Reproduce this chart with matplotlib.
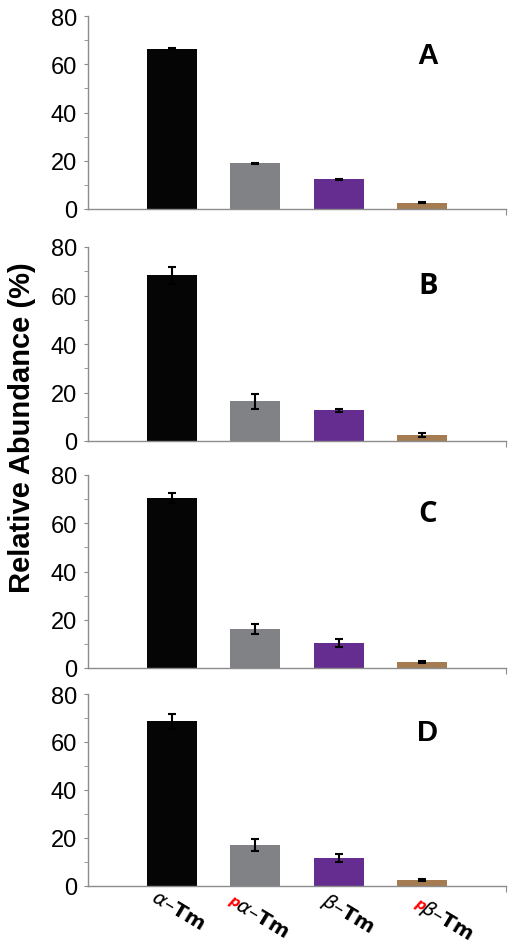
import numpy as np
import matplotlib
matplotlib.use("Agg")
import matplotlib.pyplot as plt

# data
panels = ["A", "B", "C", "D"]
categories = ["α-Tm", "pα-Tm", "β-Tm", "pβ-Tm"]
values = [
    [66.5, 18.9, 12.3, 2.6],
    [68.3, 16.3, 12.6, 2.5],
    [70.6, 16.3, 10.3, 2.5],
    [68.6, 17.2, 11.5, 2.5],
]
errors = [
    [0.2, 0.3, 0.3, 0.3],
    [3.4, 3.2, 0.7, 0.7],
    [2.0, 2.0, 1.8, 0.5],
    [3.1, 2.5, 1.7, 0.4],
]
bar_colors = ["#050505", "#808285", "#662d91", "#a57c52"]

W, H = 513, 945
fig = plt.figure(figsize=(W / 100, H / 100), dpi=100)

# pixel rows of the 80 and 0 gridlines in each panel
tops = [17, 248, 476, 695]
bottoms = [210, 442, 669, 887]
left_px, right_px = 88, 506
spine_col = "#8c8c8c"

axes = []
for k, name in enumerate(panels):
    ax = fig.add_axes([left_px / W, (H - bottoms[k]) / H,
                       (right_px - left_px) / W, (bottoms[k] - tops[k]) / H])
    x = np.arange(len(categories))
    ax.bar(x, values[k], width=0.6, color=bar_colors, zorder=2)
    ax.errorbar(x, values[k], yerr=errors[k], fmt="none", ecolor="black",
                elinewidth=1.5, capsize=3, capthick=1.5, zorder=3)
    ax.set_xlim(-1, 4)
    ax.set_ylim(0, 80)
    ax.set_yticks([0, 20, 40, 60, 80])
    ax.set_yticks([10, 30, 50, 70], minor=True)
    ax.set_xticks([4])
    ax.set_xticklabels([""])
    for s in ["top", "right"]:
        ax.spines[s].set_visible(False)
    for s in ["left", "bottom"]:
        ax.spines[s].set_color(spine_col)
        ax.spines[s].set_linewidth(1)
    ax.tick_params(axis="y", which="both", direction="out", length=3,
                   color=spine_col, labelsize=17, pad=5)
    ax.tick_params(axis="x", direction="out", length=4, color=spine_col)
    for lab in ax.get_yticklabels():
        lab.set_fontfamily("Liberation Sans")
    letter_font = "Open Sans" if name in ("B", "C") else "Liberation Sans"
    ax.text(0.813, 0.80, name, transform=ax.transAxes, ha="center", va="center",
            fontsize=21, fontweight="bold", fontfamily=letter_font)
    axes.append(ax)

fig.text(22 / W, (H - 428) / H, "Relative Abundance (%)", rotation=90,
         ha="center", va="center", fontsize=21, fontweight="bold",
         fontfamily="Liberation Sans")

# rotated category labels under the last panel
ang = 31
ux, uy = np.cos(np.deg2rad(ang)), -np.sin(np.deg2rad(ang))
label_dx = [-19, -25, -16, -7]
label_y = [896, 899, 899, 902]
fig.canvas.draw()
ax = axes[-1]
for i, cat in enumerate(categories):
    bx, _ = ax.transData.transform((i, 0))
    ax0, ay0 = bx + label_dx[i], H - label_y[i]
    greek = r"\alpha" if "α" in cat else r"\beta"
    if cat.startswith("p"):
        fig.text(ax0 / W, ay0 / H, "p", color="red", fontsize=10,
                 fontweight="bold", fontstyle="italic", rotation=-ang,
                 rotation_mode="anchor", ha="left", va="center")
        ax0 += 8 * ux
        ay0 += 8 * uy
    fig.text(ax0 / W, ay0 / H, "$" + greek + r"$–$\mathbf{Tm}$", fontsize=14.5,
             rotation=-ang, rotation_mode="anchor", ha="left", va="center")

fig.savefig("out.png", dpi=100, facecolor="white")
